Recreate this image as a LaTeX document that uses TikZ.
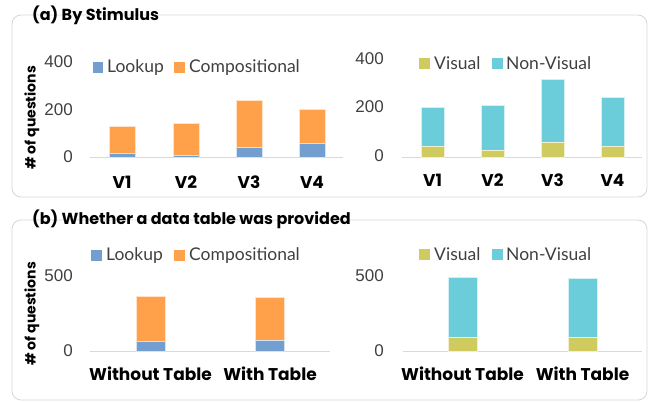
\documentclass[tikz,border=0pt]{standalone}
\usepackage{fontspec}
\setmainfont{Lato}
\newfontfamily\popfam{Poppins}
\newfontfamily\tickfam{Liberation Sans}
\definecolor{lookupc}{HTML}{729FCF}
\definecolor{compc}{HTML}{FFA04B}
\definecolor{visc}{HTML}{CFCB5E}
\definecolor{nonvisc}{HTML}{6CCDDA}
\definecolor{axisc}{HTML}{D9D9D9}
\definecolor{framec}{HTML}{D6D6D6}
\definecolor{tickc}{HTML}{404040}
\definecolor{legc}{HTML}{404040}
% stacked bar: centre x, width, base y, split y, top y, lower colour, upper colour
\newcommand\stackbar[7]{%
  \fill[#6] ({#1-#2/2},#3) rectangle ({#1+#2/2},#4);
  \fill[#7] ({#1-#2/2},#4) rectangle ({#1+#2/2},#5);
  \draw[white!70!#7, line width=0.6pt] ({#1-#2/2},#4) rectangle ({#1+#2/2},#5);
  \draw[white!70!#6, line width=0.6pt] ({#1-#2/2},#3) rectangle ({#1+#2/2},#4);
}
\tikzset{
  panel/.style={draw=framec, line width=0.8pt, rounded corners=9pt},
  paneltitle/.style={font=\popfam\bfseries\fontsize{16}{17}\selectfont, anchor=west, inner sep=0pt},
  ticklab/.style={font=\tickfam\fontsize{17}{18}\selectfont, text=tickc, anchor=east, inner sep=0pt},
  catlab/.style={font=\popfam\bfseries\fontsize{17}{18}\selectfont, inner sep=0pt},
  ylab/.style={font=\popfam\bfseries\fontsize{14}{15}\selectfont, rotate=90, inner sep=0pt},
  legtext/.style={font=\fontsize{17.5}{18}\selectfont, text=legc, anchor=west, inner sep=0pt},
  axisline/.style={draw=axisc, line width=1pt},
}
\begin{document}
\begin{tikzpicture}[x=1pt,y=-1pt]
\useasboundingbox (0,0) rectangle (650,402);

% ---------------- panel (a) ----------------
\draw[panel] (12,15) rectangle (647,197);
\node[paneltitle] (ta) at (32,15) {(a) By Stimulus};
\node[ylab] (ya) at (32,118) {\# of questions};

% left chart: question type per stimulus
\node[ticklab] (a400) at (73,62) {400};
\node[ticklab] (a200) at (73,110) {200};
\node[ticklab] (a0) at (73,157) {0};
\draw[axisline] (90,157) -- (343,157);
\stackbar{122}{26}{157}{153}{126}{lookupc}{compc}
\stackbar{186}{26}{157}{155}{123}{lookupc}{compc}
\stackbar{249}{26}{157}{147}{100}{lookupc}{compc}
\stackbar{312}{26}{157}{143}{109}{lookupc}{compc}
\node[catlab] (av1) at (122,182) {V1};
\node[catlab] (av2) at (186,182) {V2};
\node[catlab] (av3) at (249,182) {V3};
\node[catlab] (av4) at (312,182) {V4};
\fill[lookupc] (93,62) rectangle (103,73);
\node[legtext] (alook) at (107,67.5) {Lookup};
\fill[compc] (174,62) rectangle (185,73);
\node[legtext] (acomp) at (189,67.5) {Compositional};

% right chart: visual vs non-visual per stimulus
\node[ticklab] (b400) at (384,58.5) {400};
\node[ticklab] (b200) at (384,107) {200};
\node[ticklab] (b0) at (384,156) {0};
\draw[axisline] (402,157) -- (642,157);
\stackbar{432.5}{23}{157}{146}{107}{visc}{nonvisc}
\stackbar{492.5}{23}{157}{150}{105}{visc}{nonvisc}
\stackbar{552.5}{23}{157}{142}{79}{visc}{nonvisc}
\stackbar{612.5}{23}{157}{146}{97}{visc}{nonvisc}
\node[catlab] (bv1) at (432.5,180) {V1};
\node[catlab] (bv2) at (492.5,180) {V2};
\node[catlab] (bv3) at (552.5,180) {V3};
\node[catlab] (bv4) at (612.5,180) {V4};
\fill[visc] (419,58) rectangle (430,69);
\node[legtext] (bvis) at (434,63.5) {Visual};
\fill[nonvisc] (492,58) rectangle (503,69);
\node[legtext] (bnon) at (506,63.5) {Non-Visual};

% ---------------- panel (b) ----------------
\draw[panel] (12,220) rectangle (647,400);
\node[paneltitle] (tb) at (32,219) {(b) Whether a data table was provided};
\node[ylab] (yb) at (32,314) {\# of questions};

% left chart: question type by table availability
\node[ticklab] (c500) at (73,276) {500};
\node[ticklab] (c0) at (73,351) {0};
\draw[axisline] (90,351) -- (330,351);
\stackbar{150.5}{29}{351}{341}{296}{lookupc}{compc}
\stackbar{270}{29}{351}{340}{297}{lookupc}{compc}
\node[catlab] (cwo) at (150.5,374) {Without Table};
\node[catlab] (cw) at (270,374) {With Table};
\fill[lookupc] (91,250) rectangle (102,261);
\node[legtext] (clook) at (106,255.5) {Lookup};
\fill[compc] (174,250) rectangle (185,261);
\node[legtext] (ccomp) at (189,255.5) {Compositional};

% right chart: visual vs non-visual by table availability
\node[ticklab] (d500) at (384,276) {500};
\node[ticklab] (d0) at (384,351) {0};
\draw[axisline] (403,351) -- (642,351);
\stackbar{462.5}{29}{351}{337}{277}{visc}{nonvisc}
\stackbar{582.5}{29}{351}{337}{278}{visc}{nonvisc}
\node[catlab] (dwo) at (462.5,374) {Without Table};
\node[catlab] (dw) at (582.5,374) {With Table};
\fill[visc] (419,249) rectangle (430,260);
\node[legtext] (dvis) at (434,254.5) {Visual};
\fill[nonvisc] (492,249) rectangle (503,260);
\node[legtext] (dnon) at (506,254.5) {Non-Visual};
\end{tikzpicture}
\end{document}
